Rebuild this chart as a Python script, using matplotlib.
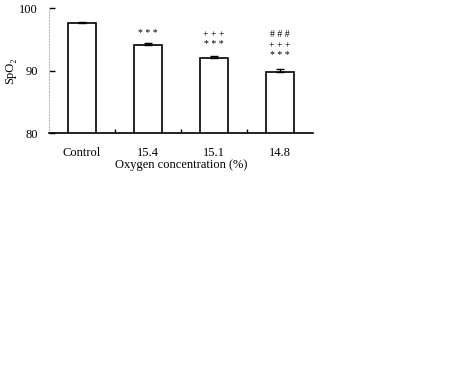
import matplotlib
matplotlib.use("Agg")
import matplotlib.pyplot as plt

plt.rcParams['font.family'] = ['Liberation Serif', 'DejaVu Serif']

categories = ["Control", "15.4", "15.1", "14.8"]
values = [97.6, 94.1, 92.05, 89.75]
errors = [0.12, 0.3, 0.35, 0.45]
annotations = [[], ["***"], ["***", "+++"], ["***", "+++", "###"]]
annot_y = [[], [96.0], [94.2, 95.8], [92.4, 94.0, 95.8]]
yticks = [80, 90, 100]

fig = plt.figure(figsize=(4.51, 3.90), dpi=100)
ax = fig.add_axes([49/451, 1-133.3/390, 264/451, 125.3/390])

x = list(range(len(categories)))
ax.bar(x, values, width=0.42, color='white', edgecolor='black', linewidth=1.2, zorder=2)
ax.errorbar(x, values, yerr=[[0]*len(errors), errors], fmt='none', ecolor='black',
            elinewidth=1.0, capsize=3, capthick=1.0, zorder=3)

for xi, labs, ys in zip(x, annotations, annot_y):
    for lab, yy in zip(labs, ys):
        ax.text(xi, yy, " ".join(lab), ha='center', va='center', fontsize=7)

ax.set_xlim(-0.5, 3.5)
ax.set_ylim(80, 100)
ax.set_yticks(yticks)
ax.set_yticklabels([str(t) for t in yticks], fontsize=9)
ax.set_xticks(x)
ax.set_xticklabels(categories, fontsize=9)
ax.set_xticks([0.5, 1.5, 2.5], minor=True)
ax.tick_params(axis='x', which='major', length=0, pad=10)
ax.tick_params(axis='x', which='minor', direction='in', length=3, width=1)
ax.tick_params(axis='y', direction='in', length=4, width=1, pad=8)

for s in ['top', 'right']:
    ax.spines[s].set_visible(False)
ax.spines['left'].set_color('#bbbbbb')
ax.spines['left'].set_linestyle(':')
ax.spines['bottom'].set_linewidth(1.2)

ax.set_xlabel("Oxygen concentration (%)", fontsize=9, labelpad=0)
ax.set_ylabel("SpO₂", fontsize=9)
ax.yaxis.set_label_coords(-0.125, 0.5)

fig.savefig("out.png", dpi=100)
